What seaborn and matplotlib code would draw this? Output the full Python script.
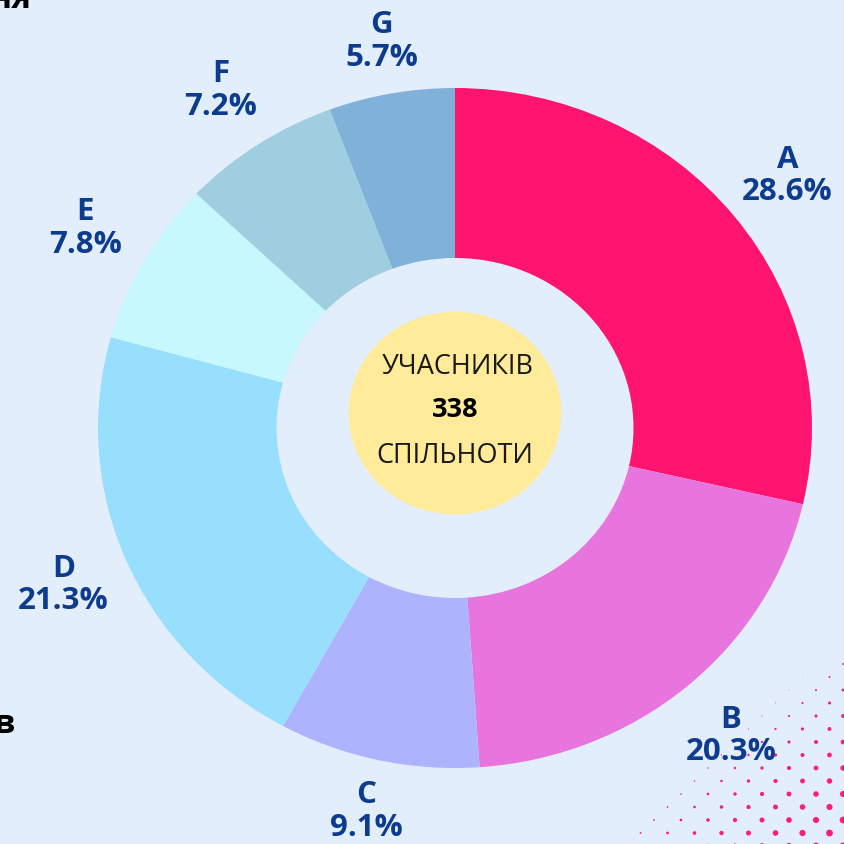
import numpy as np
import matplotlib
matplotlib.use("Agg")
import matplotlib.pyplot as plt
import seaborn as sns
from matplotlib.patches import Circle

# data
categories = ["A", "B", "C", "D", "E", "F", "G"]
shares = [28.6, 20.3, 9.1, 21.3, 7.8, 7.2, 5.7]
colors = ["#FF1470", "#E875DD", "#AEB3FE", "#98DFFE", "#C6F8FD", "#A0CDDF", "#7FB1D9"]
total_members = 338
center_top = "УЧАСНИКІВ"
center_bottom = "СПІЛЬНОТИ"

bg = "#E3EEFD"
label_color = "#0D3B8E"

sns.set_theme(style="white")
plt.rcParams["font.family"] = ["Open Sans", "DejaVu Sans"]

fig = plt.figure(figsize=(8.44, 8.44), dpi=100, facecolor=bg)

# decorative dot pattern, bottom-right corner
deco = fig.add_axes([0, 0, 1, 1])
deco.set_xlim(0, 844)
deco.set_ylim(844, 0)
deco.axis("off")
xs, ys, ss = [], [], []
for row in range(-2, 14):
    y = 690 + row * 13
    off = 0 if row % 2 == 0 else 13.5
    for col in range(0, 10):
        x = 600 + off + col * 27
        strength = (x + 1.2 * y - 1610) / 160
        if strength > 0 and x < 850 and y < 850:
            xs.append(x)
            ys.append(y)
            ss.append(min(strength, 1.4) ** 1.3 * 16)
deco.scatter(xs, ys, s=ss, color="#FF1470", alpha=0.95, linewidths=0)

# cut-off heading fragments from the source layout
fig.text(31 / 844, 1 - 8 / 844, "ня", ha="right", va="baseline",
         fontsize=24, fontweight="bold", color="black")
fig.text(15 / 844, 1 - 733 / 844, "в", ha="right", va="baseline",
         fontsize=24, fontweight="bold", color="black")

# donut
ax = fig.add_axes([98 / 844, 76 / 844, 714 / 844, 680 / 844])
ax.set_facecolor("none")
labels = [f"{c}\n{p}%" for c, p in zip(categories, shares)]
wedges, texts = ax.pie(
    shares,
    labels=labels,
    colors=colors,
    startangle=90,
    counterclock=False,
    labeldistance=1.19,
    radius=1,
    wedgeprops=dict(width=0.5, linewidth=0),
    textprops=dict(fontsize=22.5, fontweight="bold", color=label_color),
)
for t in texts:
    t.set_horizontalalignment("center")
    t.set_multialignment("center")
    t.set_linespacing(1.1)
    x, y = t.get_position()
    if abs(y) > 1.05:
        t.set_position((x * 1.155 / 1.19, y * 1.155 / 1.19))

ax.set_aspect("auto")
ax.set_xlim(-1, 1)
ax.set_ylim(-1, 1)
ax.axis("off")

ax.add_patch(Circle((0, 0.044), 0.298, facecolor="#FFEB99", edgecolor="none", zorder=3))
ax.text(0.008, 0.179, center_top, ha="center", va="center", fontsize=19.5, color="#1a1a1a", zorder=4)
ax.text(0.0, 0.053, str(total_members), ha="center", va="center", fontsize=19.5,
        fontweight="bold", color="black", zorder=4)
ax.text(0.0, -0.082, center_bottom, ha="center", va="center", fontsize=19.5, color="#1a1a1a", zorder=4)

fig.savefig("out.png", dpi=100, facecolor=bg)
